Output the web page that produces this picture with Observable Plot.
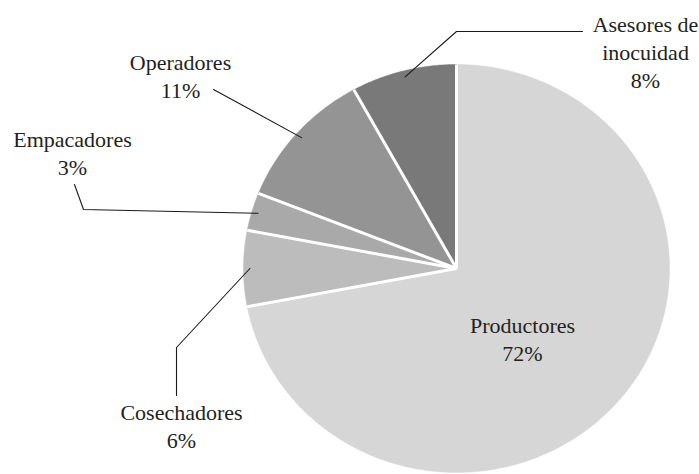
<!DOCTYPE html>
<html>
<head>
<meta charset="utf-8">
<script src="https://cdn.jsdelivr.net/npm/d3@7"></script>
<script src="https://cdn.jsdelivr.net/npm/@observablehq/plot@0.6"></script>
<style>
  html, body { margin: 0; padding: 0; background: #fff; }
</style>
</head>
<body>
<div id="chart"></div>
<script>
// ---- data ----
const categories = ["Productores", "Cosechadores", "Empacadores", "Operadores", "Asesores de inocuidad"];
const labelLines = ["Productores", "Cosechadores", "Empacadores", "Operadores", "Asesores de\ninocuidad"];
const shares = [72, 6, 3, 11, 8];
const colors = ["#d6d6d6", "#bcbcbc", "#a9a9a9", "#949494", "#797979"];

// ---- layout (pixels) ----
const W = 699, H = 474;
const cx = 456, cy = 268, rx = 213, ry = 204;
const labelPos = [[522, 313], [181, 400], [72, 127], [180, 50], [645, 12]];
const leaderBends = [null, [[176, 347], [176, 395]], [[83, 209], [74, 184]], [[213, 89]], [[456, 31], [582, 31]]];

const total = d3.sum(shares);
const pt = (a, k = 1) => ({x: cx + k * rx * Math.sin(a), y: cy - k * ry * Math.cos(a)});

let cum = 0;
const slices = [];
const bounds = [];
const leaders = [];
categories.forEach((name, i) => {
  const a0 = cum / total * 2 * Math.PI;
  cum += shares[i];
  const a1 = cum / total * 2 * Math.PI;
  const pts = [{x: cx, y: cy}];
  const n = Math.max(4, Math.ceil((a1 - a0) / (Math.PI / 360)));
  for (let j = 0; j <= n; j++) pts.push(pt(a0 + (a1 - a0) * j / n));
  pts.push({x: cx, y: cy});
  slices.push({name, color: colors[i], pts});
  const e = pt(a0);
  bounds.push({x1: cx, y1: cy, x2: e.x, y2: e.y});
  if (leaderBends[i]) {
    const s = pt((a0 + a1) / 2, 0.97);
    [s, ...leaderBends[i].map(([x, y]) => ({x, y}))].forEach(p => leaders.push({name, x: p.x, y: p.y}));
  }
});

const labels = categories.map((name, i) => ({
  name, x: labelPos[i][0], y: labelPos[i][1],
  text: `${labelLines[i]}\n${shares[i]}%`
}));

const chart = Plot.plot({
  width: W,
  height: H,
  margin: 0,
  x: {domain: [0, W], range: [0, W], axis: null},
  y: {domain: [0, H], range: [0, H], axis: null},
  style: {background: "#fff"},
  marks: [
    ...slices.map(s => Plot.line(s.pts, {x: "x", y: "y", fill: s.color, stroke: s.color, strokeWidth: 0.5})),
    Plot.link(bounds, {x1: "x1", y1: "y1", x2: "x2", y2: "y2", stroke: "#fff", strokeWidth: 3}),
    Plot.line(leaders, {x: "x", y: "y", z: "name", stroke: "#1a1a1a", strokeWidth: 1.1}),
    Plot.text(labels, {
      x: "x", y: "y", text: "text",
      textAnchor: "middle", lineAnchor: "top", lineHeight: 1.27,
      fontSize: 22, fill: "#231f20", fontFamily: "Times New Roman, Liberation Serif, DejaVu Serif, serif"
    })
  ]
});
document.getElementById("chart").appendChild(chart);
</script>
</body>
</html>
